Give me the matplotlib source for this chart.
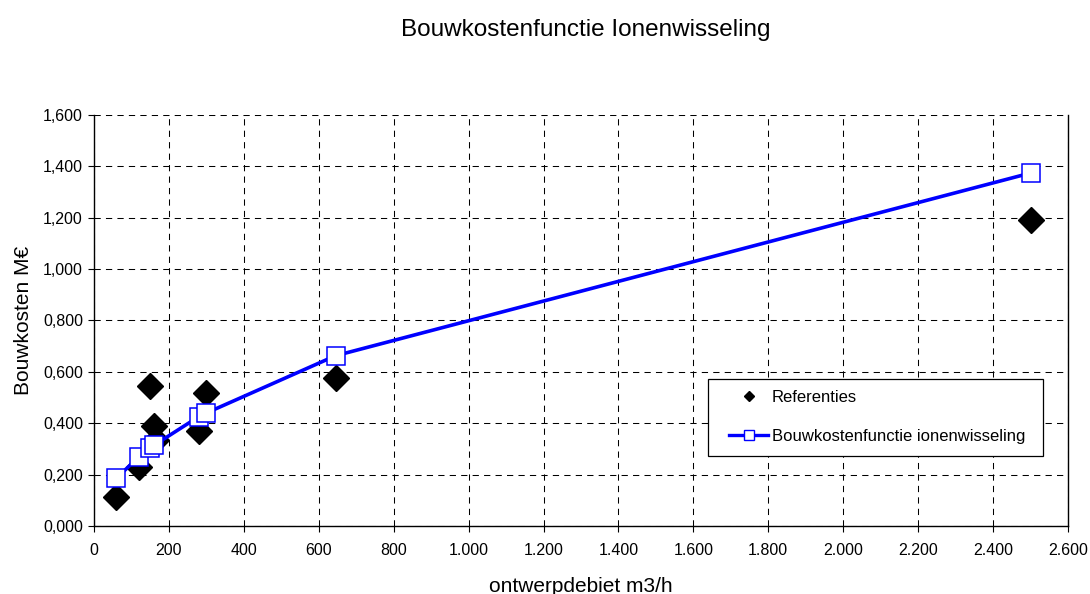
import matplotlib
matplotlib.use("Agg")
import matplotlib.pyplot as plt
from matplotlib.lines import Line2D
from matplotlib.patches import Rectangle
from matplotlib.ticker import FuncFormatter, MultipleLocator

plt.rcParams['font.family'] = ['Liberation Sans', 'DejaVu Sans']

# Reference projects: design flow (m3/h) and construction cost (M€)
ref_flow = [60, 120, 150, 160, 165, 280, 300, 645, 2500]
ref_cost = [0.114, 0.229, 0.546, 0.388, 0.335, 0.368, 0.518, 0.576, 1.190]

# Cost function for ion exchange
func_flow = [60, 120, 150, 160, 280, 300, 645, 2500]
func_cost = [0.186, 0.270, 0.304, 0.314, 0.426, 0.440, 0.663, 1.374]

title = "Bouwkostenfunctie Ionenwisseling"
xlabel = "ontwerpdebiet m3/h"
ylabel = "Bouwkosten M€"
legend_labels = ["Referenties", "Bouwkostenfunctie ionenwisseling"]

W, H = 1090, 594
fig = plt.figure(figsize=(W / 100, H / 100), dpi=100)
ax = fig.add_axes([94 / W, 1 - 526 / H, (1068 - 94) / W, (526 - 115) / H])

ax.plot(ref_flow, ref_cost, linestyle='none', marker='D', markersize=13,
        color='black', zorder=3)
ax.plot(func_flow, func_cost, color='#0000FF', linewidth=2.6, marker='s',
        markersize=12.5, markerfacecolor='white', markeredgecolor='#0000FF',
        markeredgewidth=1.1, zorder=4)

ax.set_xlim(0, 2600)
ax.set_ylim(0, 1.6)
ax.xaxis.set_major_locator(MultipleLocator(200))
ax.yaxis.set_major_locator(MultipleLocator(0.2))
ax.xaxis.set_major_formatter(FuncFormatter(lambda v, p: f"{int(round(v)):,}".replace(",", ".")))
ax.yaxis.set_major_formatter(FuncFormatter(lambda v, p: f"{v:.3f}".replace(".", ",")))

ax.grid(True, color='black', linewidth=0.75, linestyle=(0, (6, 5)), zorder=1)
ax.set_axisbelow(True)
ax.spines['top'].set_visible(False)
for s in ['left', 'bottom', 'right']:
    ax.spines[s].set_linewidth(1.0)
ax.tick_params(direction='out', length=4, width=0.8, labelsize=11.5, pad=4)
ax.tick_params(axis='x', pad=8)

ax.set_xlabel(xlabel, fontsize=15, labelpad=14)
ax.set_ylabel(ylabel, fontsize=15, labelpad=7)
fig.text(586 / W, 1 - 30 / H, title, fontsize=17.5, ha='center', va='center')

# Legend frame drawn as a plain box, entries placed inside it
box = Rectangle((708 / W, 1 - 456 / H), (1043 - 708) / W, (456 - 379) / H,
                transform=fig.transFigure, facecolor='white', edgecolor='black',
                linewidth=0.9, zorder=5)
fig.patches.append(box)

handles = [
    Line2D([], [], linestyle='none', marker='D', markersize=5.6, color='black'),
    Line2D([], [], color='#0000FF', linewidth=2.4, marker='s', markersize=7.2,
           markerfacecolor='white', markeredgecolor='#0000FF', markeredgewidth=1.0),
]
leg = fig.legend(handles, legend_labels, loc='upper left',
                 bbox_to_anchor=(729 / W, 1 - 390 / H), bbox_transform=fig.transFigure,
                 fontsize=12, frameon=False, borderpad=0, labelspacing=1.45,
                 handlelength=2.35, handletextpad=0.2, borderaxespad=0)
leg.set_zorder(6)

fig.savefig("out.png", dpi=100)
